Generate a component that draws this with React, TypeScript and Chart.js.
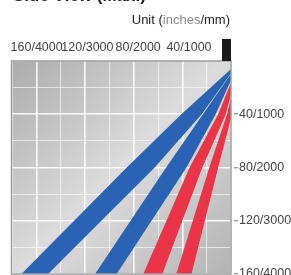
import React, { useEffect, useRef } from 'react';
import { Chart, registerables } from 'chart.js';

Chart.register(...registerables);

// ---- data ----
const axisValues = [40, 80, 120, 160];
const axisLabels = ['40/1000', '80/2000', '120/3000', '160/4000'];
const maxRange = 181; // horizontal extent (inches)
const maxDepth = 160; // vertical extent (inches)

// beam edges: horizontal distance (inches) at each depth sample
const edgeDepths = [0, 40, 80, 160];
const beam1Outer = [0, 46, 89, 172];
const beam1Inner = [0, 30, 67, 151];
const beam2Outer = [0, 29, 58, 114];
const beam2Inner = [0, 19, 42, 97];
const beam3Outer = [0, 17, 39.5, 76];
const beam3Inner = [0, 11, 29.5, 61];
const beam4Outer = [0, 10, 24, 50];
const beam4Inner = [0, 6, 17, 38];
const beamColors = ['#2a63b3', '#2a63b3', '#ec3449', '#ec3449'];

const beamOuter = [beam1Outer, beam2Outer, beam3Outer, beam4Outer];
const beamInner = [beam1Inner, beam2Inner, beam3Inner, beam4Inner];

const chartDeco = {
  id: 'chartDeco',
  beforeDraw(chart: any) {
    const { ctx, chartArea: a } = chart;
    const g = ctx.createLinearGradient(a.left, a.top, a.right, a.bottom);
    g.addColorStop(0, '#acacac');
    g.addColorStop(0.5, '#dcdcdc');
    g.addColorStop(1, '#b4b4b4');
    ctx.save();
    ctx.fillStyle = g;
    ctx.fillRect(a.left, a.top, a.right - a.left, a.bottom - a.top);
    ctx.restore();
  },
  afterDraw(chart: any) {
    const { ctx, chartArea: a, scales } = chart;
    ctx.save();
    ctx.strokeStyle = '#9c9c9c';
    ctx.lineWidth = 1.5;
    ctx.strokeRect(a.left + 0.5, a.top, a.right - a.left - 0.5, a.bottom - a.top);
    const x0 = scales.x.getPixelForValue(0);
    ctx.fillStyle = '#1b1b1b';
    ctx.fillRect(x0 - 9, a.top - 22, 9, 22);
    ctx.restore();
  },
};

function labelFor(v: number) {
  const i = axisValues.indexOf(v);
  return i >= 0 ? axisLabels[i] : '';
}

export default function App() {
  const ref = useRef<HTMLCanvasElement | null>(null);

  useEffect(() => {
    if (!ref.current) return;
    const datasets = beamOuter.map((outer, i) => {
      const inner = beamInner[i];
      const pts: { x: number; y: number }[] = [];
      edgeDepths.forEach((d, k) => pts.push({ x: outer[k], y: d }));
      for (let k = edgeDepths.length - 1; k >= 0; k--) pts.push({ x: inner[k], y: edgeDepths[k] });
      return {
        label: 'beam' + (i + 1),
        data: pts,
        backgroundColor: beamColors[i],
        borderColor: 'rgba(0,0,0,0)',
        borderWidth: 0,
        pointRadius: 0,
        fill: 'shape',
        tension: 0,
      };
    });

    const gridColor = (c: any) =>
      c.tick && c.tick.value % 40 === 0 ? 'rgba(255,255,255,0.9)' : 'rgba(255,255,255,0.6)';
    const gridWidth = (c: any) => (c.tick && c.tick.value % 40 === 0 ? 1.6 : 1.1);
    const tickFont = { family: 'Liberation Sans, Arial, sans-serif', size: 12.5 };

    const chart = new Chart(ref.current, {
      type: 'line',
      data: { datasets },
      plugins: [chartDeco],
      options: {
        animation: false,
        responsive: false,
        devicePixelRatio: 1,
        layout: { padding: { left: 11, top: 0, right: 0, bottom: 1 } },
        plugins: { legend: { display: false }, tooltip: { enabled: false } },
        scales: {
          xLabels: {
            type: 'linear',
            position: 'top',
            reverse: true,
            min: 6.9,
            max: 180.2,
            afterBuildTicks(scale: any) {
              scale.ticks = axisValues.map((v) => ({ value: v }));
            },
            afterFit(scale: any) {
              scale.height = 61;
              scale.paddingLeft = 0;
              scale.paddingRight = 0;
            },
            border: { display: false },
            grid: { display: false, drawTicks: false },
            ticks: {
              autoSkip: false,
              maxRotation: 0,
              padding: 6,
              color: '#444',
              font: tickFont,
              callback: (v: any) => labelFor(Number(v)),
            },
          },
          x: {
            type: 'linear',
            position: 'top',
            reverse: true,
            min: 0,
            max: maxRange,
            afterFit(scale: any) {
              scale.height = 0;
              scale.paddingLeft = 0;
              scale.paddingRight = 0;
            },
            border: { display: false },
            grid: { drawTicks: false, color: gridColor, lineWidth: gridWidth },
            ticks: { display: false, stepSize: 20, includeBounds: false, autoSkip: false },
          },
          y: {
            type: 'linear',
            position: 'right',
            reverse: true,
            min: 0,
            max: maxDepth,
            afterFit(scale: any) {
              scale.width = 60;
              scale.paddingTop = 0;
              scale.paddingBottom = 0;
            },
            border: { display: false },
            grid: {
              drawTicks: true,
              tickLength: 7,
              tickBorderDash: [0, 3, 4, 50],
              tickWidth: 1,
              tickColor: (c: any) => (c.tick && labelFor(c.tick.value) ? '#777' : 'rgba(0,0,0,0)'),
              color: gridColor,
              lineWidth: gridWidth,
            },
            ticks: {
              stepSize: 20,
              autoSkip: false,
              padding: 1,
              color: '#444',
              font: tickFont,
              callback: (v: any) => labelFor(Number(v)),
            },
          },
        },
      },
    } as any);
    return () => chart.destroy();
  }, []);

  return (
    <div
      style={{
        position: 'absolute',
        left: 0,
        top: 0,
        width: 291,
        height: 275,
        overflow: 'hidden',
        background: '#fff',
      }}
    >
      <canvas ref={ref} width={291} height={275} style={{ position: 'absolute', left: 0, top: 0 }} />
      <div
        style={{
          position: 'absolute',
          left: 13,
          top: -13,
          font: 'bold 17px "Liberation Sans", Arial, sans-serif',
          lineHeight: '17px',
          color: '#1e1e1e',
          whiteSpace: 'nowrap',
        }}
      >
        Side View (Max.)
      </div>
      <div
        style={{
          position: 'absolute',
          right: 61,
          top: 13,
          font: '13px "Liberation Sans", Arial, sans-serif',
          lineHeight: '13px',
          color: '#222',
          whiteSpace: 'nowrap',
        }}
      >
        Unit (<span style={{ color: '#8a8a8a' }}>inches</span>/mm)
      </div>
    </div>
  );
}
